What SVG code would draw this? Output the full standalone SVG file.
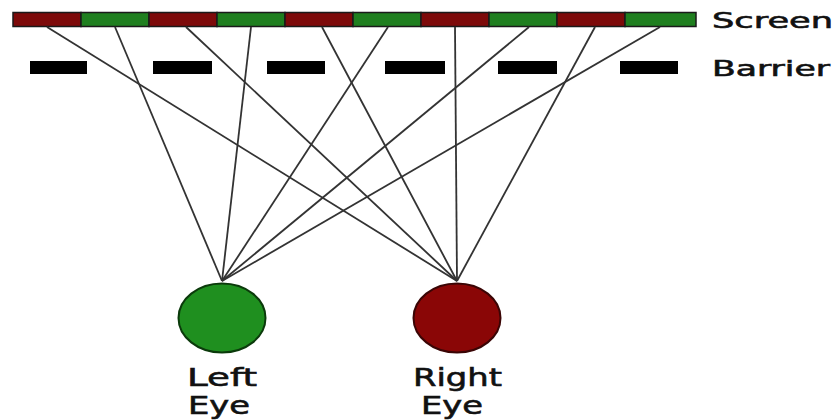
<svg xmlns="http://www.w3.org/2000/svg" width="835" height="420" viewBox="0 0 835 420">
  <style>
    .red { fill: #7d0a0a; }
    .green { fill: #1f7f1f; }
    .seg { stroke: #1a1a1a; stroke-width: 1.5; }
    .bar { fill: #000; }
    .ray { stroke: #333; stroke-width: 1.8; fill: none; }
    .lbl { font-family: "DejaVu Sans", Verdana, sans-serif; fill: #111; stroke: #111; stroke-width: 0.6; }
  </style>
  <rect width="835" height="420" fill="#fff"/>

  <!-- Screen: alternating left/right image columns -->
  <g id="screen">
    <rect class="red seg" x="13" y="12.5" width="68" height="14"/>
    <rect class="green seg" x="81" y="12.5" width="68" height="14"/>
    <rect class="red seg" x="149" y="12.5" width="68" height="14"/>
    <rect class="green seg" x="217" y="12.5" width="68" height="14"/>
    <rect class="red seg" x="285" y="12.5" width="68" height="14"/>
    <rect class="green seg" x="353" y="12.5" width="68" height="14"/>
    <rect class="red seg" x="421" y="12.5" width="68" height="14"/>
    <rect class="green seg" x="489" y="12.5" width="68" height="14"/>
    <rect class="red seg" x="557" y="12.5" width="68" height="14"/>
    <rect class="green seg" x="625" y="12.5" width="71" height="14"/>
    <text class="lbl" x="712" y="28" font-size="21" textLength="121" lengthAdjust="spacingAndGlyphs">Screen</text>
  </g>

  <!-- Parallax barrier -->
  <g id="barrier">
    <rect class="bar" x="30" y="61" width="57" height="13"/>
    <rect class="bar" x="153" y="61" width="59" height="13"/>
    <rect class="bar" x="267" y="61" width="58" height="13"/>
    <rect class="bar" x="385" y="61" width="60" height="13"/>
    <rect class="bar" x="498" y="61" width="59" height="13"/>
    <rect class="bar" x="620" y="61" width="58" height="13"/>
    <text class="lbl" x="712" y="76" font-size="21" textLength="118" lengthAdjust="spacingAndGlyphs">Barrier</text>
  </g>

  <!-- Sight lines from each screen column to its eye -->
  <g id="connectors">
    <line class="ray" x1="47" y1="27" x2="457" y2="281"/>
    <line class="ray" x1="115" y1="27" x2="222" y2="281"/>
    <line class="ray" x1="186" y1="27" x2="457" y2="281"/>
    <line class="ray" x1="251" y1="27" x2="222" y2="281"/>
    <line class="ray" x1="322" y1="27" x2="457" y2="281"/>
    <line class="ray" x1="388" y1="27" x2="222" y2="281"/>
    <line class="ray" x1="455" y1="27" x2="457" y2="281"/>
    <line class="ray" x1="529" y1="27" x2="222" y2="281"/>
    <line class="ray" x1="595" y1="27" x2="457" y2="281"/>
    <line class="ray" x1="660" y1="27" x2="222" y2="281"/>
  </g>

  <g id="left-eye">
    <ellipse cx="222" cy="318" rx="43.5" ry="34.5" fill="#1f8f1f" stroke="#0b3a0b" stroke-width="2"/>
    <text class="lbl" x="187" y="386" font-size="25" textLength="70" lengthAdjust="spacingAndGlyphs">Left</text>
    <text class="lbl" x="188" y="414" font-size="24" textLength="62" lengthAdjust="spacingAndGlyphs">Eye</text>
  </g>

  <g id="right-eye">
    <ellipse cx="457" cy="318" rx="43.5" ry="34.5" fill="#8a0606" stroke="#3a0505" stroke-width="2"/>
    <text class="lbl" x="413" y="386" font-size="25" textLength="89" lengthAdjust="spacingAndGlyphs">Right</text>
    <text class="lbl" x="421" y="414" font-size="24" textLength="62" lengthAdjust="spacingAndGlyphs">Eye</text>
  </g>
</svg>
